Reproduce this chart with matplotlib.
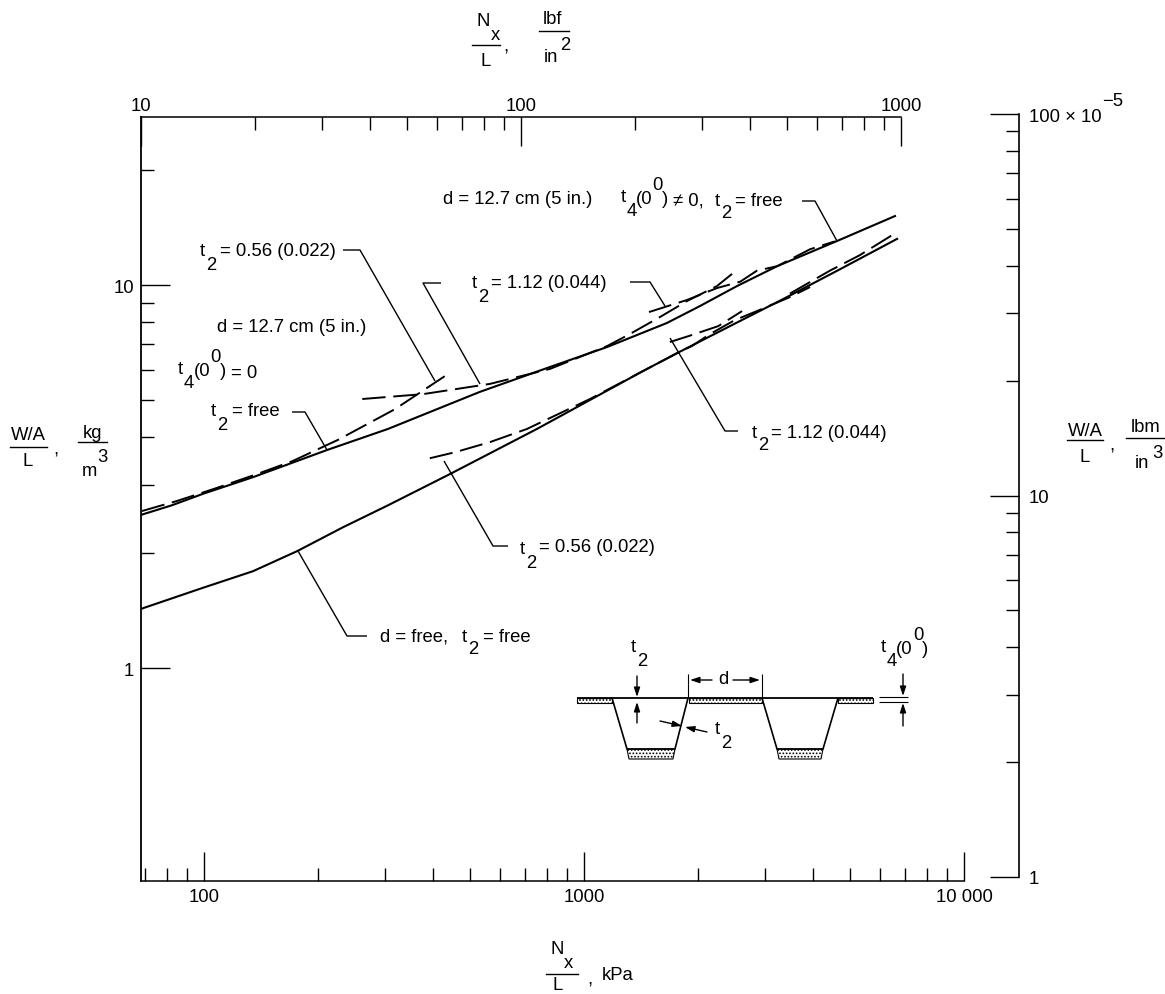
import matplotlib
matplotlib.use('Agg')
import matplotlib.pyplot as plt
from matplotlib.patches import Polygon

plt.rcParams['font.family'] = ['Liberation Sans', 'DejaVu Sans']
plt.rcParams['hatch.linewidth'] = 0.8

W, H = 1165, 995
FS = 13.3

# N_x/L in kPa, (W/A)/L in kg/m3
free_x = [68.2, 82.3, 99.4, 134.6, 211, 305, 532, 814, 1151, 1653, 2018, 2528, 3224, 4633, 6583]
free_y = [2.51, 2.66, 2.85, 3.15, 3.71, 4.21, 5.26, 6.11, 6.89, 7.96, 8.81, 9.94, 11.2, 13.03, 15.14]
dfree_x = [68.7, 99.4, 134.6, 176, 232, 305, 444, 752, 1037, 1429, 1758, 2421, 3342, 4721, 6668]
dfree_y = [1.43, 1.62, 1.79, 2.02, 2.33, 2.66, 3.21, 4.21, 5.01, 5.96, 6.64, 7.81, 9.19, 11.0, 13.2]

d1_x = [68.7, 84.9, 105.6, 138, 171, 225, 318, 430]
d1_y = [2.57, 2.73, 2.93, 3.21, 3.47, 3.94, 4.74, 5.78]
d2_x = [261, 377, 566, 814, 1151, 1321, 1585, 1866, 2239, 2541]
d2_y = [5.04, 5.19, 5.52, 6.04, 6.93, 7.45, 8.25, 9.08, 9.94, 11.0]
d3_x = [1483, 1866, 2239, 2576, 2851, 3224, 3935, 4571]
d3_y = [8.50, 9.14, 9.82, 10.2, 10.9, 11.2, 12.4, 13.0]
d4_x = [393, 458, 566, 708, 1037, 1429, 1758, 1923, 2148, 2495, 2851, 3483, 3935]
d4_y = [3.53, 3.66, 3.89, 4.21, 5.04, 5.96, 6.64, 6.93, 7.45, 8.1, 8.55, 9.3, 9.88]
d5_x = [1683, 1888, 2255, 2606]
d5_y = [7.1, 7.36, 7.81, 8.55]
d6_x = [3483, 4436, 5321, 6668]
d6_y = [9.5, 10.9, 11.97, 13.75]

left_major = [1, 10]
left_minor = [2, 3, 4, 5, 6, 7, 8, 9, 20]
bottom_major = [100, 1000, 10000]
bottom_labels = ['100', '1000', '10 000']
bottom_minor = [70, 80, 90, 200, 300, 400, 500, 600, 700, 800, 900,
                2000, 3000, 4000, 5000, 6000, 7000, 8000, 9000]
top_major = [10, 100, 1000]
top_minor = [20, 30, 40, 50, 60, 70, 80, 90, 200, 300, 400, 500, 600, 700, 800, 900]
right_major = [1, 10, 100]
right_labels = ['1', '10', '100 × 10']
right_minor = [2, 3, 4, 5, 6, 7, 8, 9, 20, 30, 40, 50, 60, 70, 80, 90]


def box(l, t, r, b):
    return [l / W, 1 - b / H, (r - l) / W, (b - t) / H]


fig = plt.figure(figsize=(W / 100, H / 100), dpi=100)

# main axes, kPa and kg/m3
ax = fig.add_axes(box(141, 118, 964, 882))
ax.set_xscale('log')
ax.set_yscale('log')
ax.set_xlim(68.3, 10000)
ax.set_ylim(0.278, 27.46)
ax.spines['top'].set_visible(False)
ax.spines['right'].set_visible(False)
ax.spines['left'].set_linewidth(1.3)
ax.spines['bottom'].set_linewidth(1.1)
ax.set_xticks(bottom_major, bottom_labels)
ax.set_xticks(bottom_minor, minor=True)
ax.set_yticks(left_major, ['1', '10'])
ax.set_yticks(left_minor, minor=True)
ax.tick_params(which='major', direction='in', length=21, width=1, labelsize=FS, pad=5)
ax.tick_params(which='minor', direction='in', length=9.5, width=1, labelleft=False, labelbottom=False)

ax.plot(free_x, free_y, color='k', lw=1.5)
ax.plot(dfree_x, dfree_y, color='k', lw=1.5)
for xs, ys in [(d1_x, d1_y), (d2_x, d2_y), (d3_x, d3_y), (d4_x, d4_y), (d5_x, d5_y), (d6_x, d6_y)]:
    ax.plot(xs, ys, color='k', lw=1.4, ls=(0, (12, 4)))

# top axis, lbf/in2
top = fig.add_axes(box(141, 118, 901, 882))
top.patch.set_visible(False)
top.set_xscale('log')
top.set_xlim(10, 1000)
for s in ['left', 'right', 'bottom']:
    top.spines[s].set_visible(False)
top.spines['top'].set_linewidth(1.1)
top.set_yticks([])
top.xaxis.tick_top()
top.set_xticks(top_major, ['10', '100', '1000'])
top.set_xticks(top_minor, minor=True)
top.tick_params(which='major', direction='in', length=21, width=1, labelsize=FS, pad=2)
top.tick_params(which='minor', direction='in', length=9.5, width=1, labeltop=False)

# right axis, lbm/in3
right = fig.add_axes(box(960, 115, 1019, 878))
right.patch.set_visible(False)
right.set_yscale('log')
right.set_ylim(1, 100)
right.set_xticks([])
for s in ['left', 'top', 'bottom']:
    right.spines[s].set_visible(False)
right.spines['right'].set_linewidth(1.2)
right.yaxis.tick_right()
right.set_yticks(right_major, right_labels)
right.set_yticks(right_minor, minor=True)
right.tick_params(which='major', direction='in', length=21, width=1, labelsize=FS, pad=7)
right.tick_params(which='minor', direction='in', length=9.5, width=1, labelright=False)

# overlay in pixels for the notes and the sketch
ov = fig.add_axes([0, 0, 1, 1])
ov.set_xlim(0, W)
ov.set_ylim(H, 0)
ov.axis('off')
ov.patch.set_visible(False)


def txt(x, y, s, ha='left', fs=FS):
    ov.text(x, y, s, ha=ha, va='center', fontsize=fs, color='k')


def t_sub(x, y, sub):
    txt(x, y, 't')
    txt(x + 6, y + 13, sub)


def frac(cx, y_line, x0, x1, upper, lower, ya, yb):
    ov.plot([x0, x1], [y_line, y_line], color='k', lw=1)
    if upper:
        txt(cx, ya, upper, ha='center')
    if lower:
        txt(cx, yb, lower, ha='center')


def line(xs, ys, lw=1.0):
    ov.plot(xs, ys, color='k', lw=lw, solid_capstyle='butt')


def arrow(x0, y0, x1, y1):
    ov.annotate('', xy=(x1, y1), xytext=(x0, y0),
                arrowprops=dict(arrowstyle='-|>,head_width=0.18,head_length=0.55', color='k', lw=1,
                                shrinkA=0, shrinkB=0))


# leaders
line([343, 360, 435], [251, 251, 382])
line([441, 423, 480], [284, 284, 385])
line([292, 305, 327], [413, 413, 451])
line([630, 650, 665], [283, 283, 307])
line([802, 815, 837], [202, 202, 242])
line([738, 725, 670], [432, 432, 339])
line([508, 493, 444], [547, 547, 462])
line([367, 347, 298], [637, 637, 552])

# notes
t_sub(200, 252, '2')
txt(220, 252, '= 0.56 (0.022)')
txt(217, 328, 'd = 12.7 cm (5 in.)')
t_sub(178, 370, '4')
txt(194, 372, '(0')
txt(210, 358, '0')
txt(220, 372, ')')
txt(231, 373, '= 0')
t_sub(211, 412, '2')
txt(232, 412, '= free')
t_sub(472, 284, '2')
txt(491, 284, '= 1.12 (0.044)')
txt(443, 199, 'd = 12.7 cm (5 in.)')
t_sub(621, 198, '4')
txt(636, 200, '(0')
txt(652, 186, '0')
txt(662, 200, ')')
txt(673, 201, '≠ 0,')
t_sub(715, 201, '2')
txt(735, 201, '= free')
t_sub(752, 433, '2')
txt(771, 433, '= 1.12 (0.044)')
t_sub(520, 550, '2')
txt(539, 548, '= 0.56 (0.022)')
txt(380, 637, 'd = free,')
t_sub(462, 637, '2')
txt(483, 637, '= free')

# axis titles, built from stacked pieces
frac(28, 448, 10, 47, 'W/A', 'L', 436, 462)
txt(53, 450, ',')
frac(93, 443, 78, 107, 'kg', '', 433, 472)
txt(89, 472, 'm', ha='center')
txt(102, 457, '3', ha='center')

frac(1085, 441, 1067, 1103, 'W/A', 'L', 432, 458)
txt(1109, 446, ',')
frac(1146, 439, 1126, 1165, 'lbm', '', 427, 464)
txt(1142, 464, 'in', ha='center')
txt(1157, 453, '3', ha='center')
txt(1102, 102, '−5')

txt(483, 22, 'N', ha='center')
txt(495, 35, 'x', ha='center')
frac(486, 46, 472, 500, '', 'L', 30, 62)
txt(503, 47, ',')
frac(553, 32, 539, 569, 'lbf', '', 20, 58)
txt(551, 58, 'in', ha='center')
txt(565, 45, '2', ha='center')

txt(557, 950, 'N', ha='center')
txt(568, 964, 'x', ha='center')
frac(558, 975, 546, 578, '', 'L', 960, 985)
txt(587, 980, ',')
txt(602, 975, 'kPa')

# stiffened panel sketch
for xs in [(577, 612), (689, 762), (838, 873)]:
    ov.add_patch(Polygon([(xs[0], 699), (xs[1], 699), (xs[1], 704), (xs[0], 704)], closed=True,
                         facecolor='white', edgecolor='k', lw=0.8, hatch='.....'))
for x0, x1 in [(627, 675), (777, 823)]:
    ov.add_patch(Polygon([(x0, 750), (x1, 750), (x1 - 2, 760), (x0 + 2, 760)], closed=True,
                         facecolor='white', edgecolor='k', lw=0.8, hatch='.....'))
line([577, 873], [699, 699], lw=1.3)
line([612, 627, 675, 688], [699, 750, 750, 699], lw=1.2)
line([762, 777, 823, 838], [699, 750, 750, 699], lw=1.2)
line([688, 688], [675, 698], lw=0.8)
line([762, 762], [675, 698], lw=0.8)
line([879, 908], [698, 698], lw=0.8)
line([879, 908], [703, 703], lw=0.8)
arrow(712, 681, 690, 681)
arrow(733, 681, 760, 681)
arrow(637, 677, 637, 698)
arrow(637, 724, 637, 703)
arrow(660, 722, 682, 727)
arrow(707, 733, 685, 728)
arrow(903, 675, 903, 697)
arrow(903, 727, 903, 704)
t_sub(631, 648, '2')
txt(723, 680, 'd', ha='center')
t_sub(715, 730, '2')
t_sub(881, 648, '4')
txt(896, 650, '(0')
txt(913, 636, '0')
txt(922, 650, ')')

plt.savefig('out.png', dpi=100)
